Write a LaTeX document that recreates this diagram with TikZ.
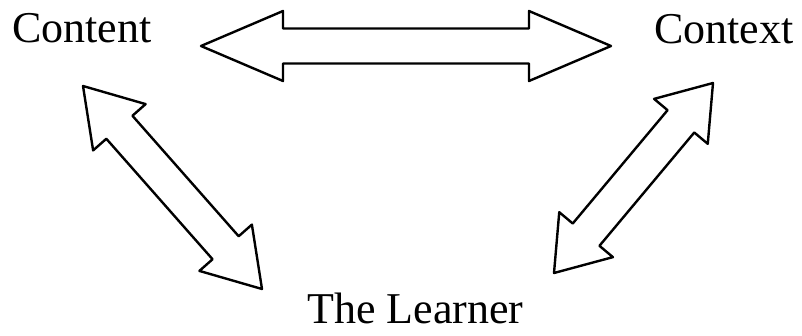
\documentclass[tikz,border=0pt]{standalone}
\usepackage{fontspec}
\setmainfont{Liberation Serif}
\usetikzlibrary{calc}
\tikzset{
  lbl/.style={anchor=base west, inner sep=0pt, font=\fontsize{44}{50}\selectfont},
  fat/.style={draw=black, line width=2.4pt, fill=white, line join=round}
}
\newcommand\fatarrow[5]{%
  \draw[fat] (#1)
    -- ($(#1)!#3!(#2)!#4!90:(#2)$)
    -- ($(#1)!#3!(#2)!#5!90:(#2)$)
    -- ($(#2)!#3!(#1)!#5!-90:(#1)$)
    -- ($(#2)!#3!(#1)!#4!-90:(#1)$)
    -- (#2)
    -- ($(#2)!#3!(#1)!#4!90:(#1)$)
    -- ($(#2)!#3!(#1)!#5!90:(#1)$)
    -- ($(#1)!#3!(#2)!#5!-90:(#2)$)
    -- ($(#1)!#3!(#2)!#4!-90:(#2)$)
    -- cycle;}
\begin{document}
\begin{tikzpicture}[x=1pt,y=-1pt]
\useasboundingbox[fill=white] (0,0) rectangle (802,335);
\node[lbl] (content) at (12,42) {Content};
\node[lbl] (context) at (654,43) {Context};
\node[lbl] (learner) at (307,323) {The Learner};
\coordinate (h1) at (201,46);
\coordinate (h2) at (611,46);
\coordinate (l1) at (83,86);
\coordinate (l2) at (262,289);
\coordinate (r1) at (713,83);
\coordinate (r2) at (554,273);
\fatarrow{h1}{h2}{82pt}{35pt}{17.5pt}
\fatarrow{l1}{l2}{55pt}{35pt}{17.4pt}
\fatarrow{r1}{r2}{50pt}{35pt}{17.4pt}
\end{tikzpicture}
\end{document}
